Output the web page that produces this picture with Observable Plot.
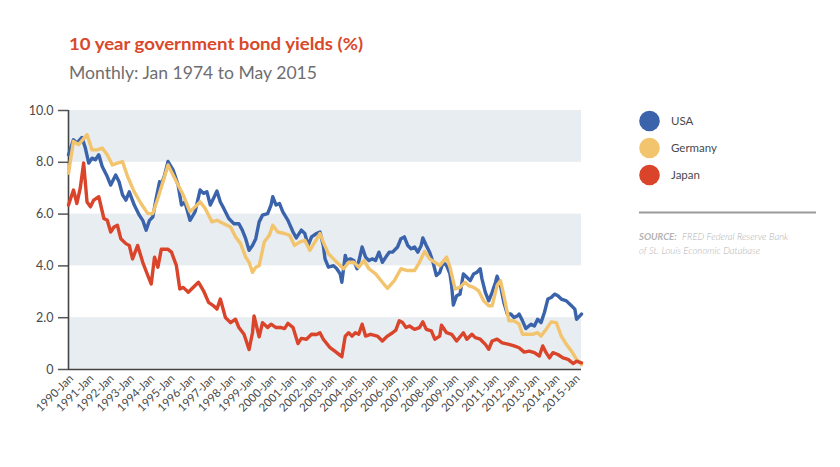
<!DOCTYPE html>
<html>
<head>
<meta charset="utf-8">
<script src="https://cdn.jsdelivr.net/npm/d3@7"></script>
<script src="https://cdn.jsdelivr.net/npm/@observablehq/plot@0.6"></script>
<style>
  html, body { margin: 0; padding: 0; background: #ffffff; }
  #wrap { position: relative; width: 840px; height: 467px; overflow: hidden; font-family: Lato, "Open Sans", sans-serif; }
  #chart { position: absolute; left: 0; top: 0; }
  #overlay { position: absolute; left: 0; top: 0; pointer-events: none; }
</style>
</head>
<body>
<div id="wrap">
  <div id="chart"></div>
  <svg id="overlay" width="840" height="467"></svg>
</div>
<script>
// ---------- data ----------
const titleText = "10 year government bond yields (%)";
const subtitleText = "Monthly: Jan 1974 to May 2015";
const countries = ["USA", "Germany", "Japan"];
const countryColors = ["#3a63ab", "#f2c46e", "#d9442a"];
const sourceLabel = "SOURCE:";
const sourceLines = ["FRED Federal Reserve Bank", "of St. Louis Economic Database"];

const xStart = "1990-01";
const xEnd = "2015-05";
const xTickYears = d3.range(1990, 2016);
const yTicks = [0, 2, 4, 6, 8, 10];
const bandLo = [0, 4, 8];
const bandHi = [2, 6, 10];

const usa = [
  ["1990-01",8.29],["1990-04",8.87],["1990-06",8.74],["1990-09",8.96],["1990-11",8.55],
  ["1991-01",7.97],["1991-03",8.16],["1991-05",8.10],["1991-07",8.29],["1991-09",7.84],["1991-12",7.45],
  ["1992-02",7.12],["1992-05",7.51],["1992-07",7.25],["1992-09",6.74],["1992-11",6.54],
  ["1993-01",6.86],["1993-04",6.35],["1993-07",5.96],["1993-09",5.76],["1993-11",5.38],
  ["1994-01",5.76],["1994-03",5.89],["1994-05",6.61],["1994-07",7.25],["1994-08",7.12],["1994-10",7.51],["1994-12",8.03],
  ["1995-03",7.71],["1995-06",7.12],["1995-08",6.35],["1995-10",6.47],
  ["1996-01",5.76],["1996-04",6.09],["1996-07",6.93],["1996-09",6.80],["1996-11",6.86],
  ["1997-01",6.35],["1997-03",6.61],["1997-05",6.89],["1997-07",6.47],["1997-09",6.22],["1997-12",5.83],
  ["1998-03",5.63],["1998-06",5.63],["1998-08",5.38],["1998-10",5.05],["1998-12",4.60],
  ["1999-02",4.79],["1999-04",5.05],["1999-06",5.70],["1999-08",5.96],["1999-11",6.02],
  ["2000-01",6.35],["2000-02",6.67],["2000-04",6.35],["2000-06",6.41],["2000-08",6.09],["2000-11",5.76],
  ["2001-02",5.31],["2001-04",5.08],["2001-07",5.38],["2001-09",5.25],["2001-11",4.79],
  ["2002-01",5.12],["2002-04",5.25],["2002-06",5.31],["2002-08",4.79],["2002-09",4.27],["2002-11",3.95],
  ["2003-02",4.01],["2003-04",3.89],["2003-06",3.69],["2003-07",3.37],["2003-09",4.40],["2003-10",4.21],["2003-12",4.27],
  ["2004-02",4.21],["2004-04",3.89],["2004-07",4.73],["2004-09",4.34],["2004-11",4.21],
  ["2005-01",4.27],["2005-03",4.21],["2005-05",4.53],["2005-07",4.14],["2005-09",4.34],["2005-11",4.53],
  ["2006-01",4.53],["2006-04",4.73],["2006-06",5.05],["2006-08",5.12],["2006-10",4.79],["2006-12",4.66],
  ["2007-02",4.73],["2007-04",4.53],["2007-06",4.79],["2007-07",5.08],["2007-09",4.79],["2007-11",4.53],
  ["2008-01",4.14],["2008-03",3.63],["2008-05",3.75],["2008-07",4.14],["2008-09",4.01],["2008-11",3.69],["2008-12",3.24],
  ["2009-01",2.49],["2009-03",2.85],["2009-05",2.91],["2009-07",3.69],["2009-09",3.56],["2009-11",3.43],
  ["2010-01",3.69],["2010-03",3.75],["2010-05",3.89],["2010-06",3.50],["2010-08",2.98],["2010-10",2.65],["2010-12",2.98],
  ["2011-02",3.37],["2011-03",3.60],["2011-05",3.24],["2011-07",2.59],["2011-09",2.14],["2011-11",2.14],
  ["2012-01",2.01],["2012-03",2.07],["2012-04",2.14],["2012-06",1.88],["2012-08",1.58],["2012-11",1.75],
  ["2013-01",1.68],["2013-03",1.94],["2013-05",1.81],["2013-07",2.20],["2013-09",2.72],["2013-11",2.78],
  ["2014-01",2.91],["2014-03",2.85],["2014-05",2.72],["2014-08",2.65],["2014-11",2.46],
  ["2015-01",2.33],["2015-02",1.94],["2015-04",2.07],["2015-05",2.14]
];

const germany = [
  ["1990-01",7.58],["1990-04",8.81],["1990-07",8.68],["1990-12",9.07],
  ["1991-03",8.48],["1991-06",8.48],["1991-09",8.55],["1991-12",8.29],
  ["1992-03",7.90],["1992-06",7.97],["1992-09",8.03],["1992-12",7.45],
  ["1993-04",6.86],["1993-08",6.41],["1993-12",6.02],
  ["1994-03",6.02],["1994-06",6.61],["1994-09",7.25],["1994-12",7.90],
  ["1995-03",7.51],["1995-06",7.12],["1995-09",6.74],
  ["1996-01",6.09],["1996-04",6.28],["1996-07",6.47],["1996-10",6.22],
  ["1997-02",5.70],["1997-05",5.76],["1997-09",5.63],
  ["1998-01",5.50],["1998-04",5.12],["1998-07",4.86],["1998-10",4.34],["1998-12",4.14],
  ["1999-02",3.75],["1999-04",3.95],["1999-06",4.01],["1999-09",4.92],["1999-12",5.18],
  ["2000-02",5.57],["2000-05",5.31],["2000-09",5.25],["2000-12",5.18],
  ["2001-03",4.79],["2001-06",4.92],["2001-09",4.99],["2001-12",4.60],
  ["2002-03",4.92],["2002-06",5.25],["2002-08",4.92],["2002-11",4.47],
  ["2003-02",4.27],["2003-04",4.14],["2003-08",3.89],["2003-11",4.14],
  ["2004-02",4.14],["2004-05",3.95],["2004-08",4.21],["2004-11",3.89],
  ["2005-03",3.69],["2005-07",3.37],["2005-10",3.13],
  ["2006-02",3.43],["2006-06",3.89],["2006-10",3.82],
  ["2007-02",3.82],["2007-05",4.14],["2007-08",4.56],["2007-11",4.27],
  ["2008-02",4.14],["2008-05",4.01],["2008-09",4.34],["2008-11",3.95],
  ["2009-02",3.11],["2009-05",3.17],["2009-08",3.37],["2009-10",3.24],
  ["2010-01",3.17],["2010-04",3.04],["2010-07",2.65],["2010-10",2.46],["2010-12",2.46],
  ["2011-03",3.24],["2011-05",3.43],["2011-07",2.85],["2011-10",1.88],
  ["2012-01",1.88],["2012-04",1.75],["2012-06",1.36],["2012-09",1.36],["2012-12",1.36],
  ["2013-03",1.42],["2013-05",1.29],["2013-08",1.55],["2013-11",1.84],
  ["2014-02",1.81],["2014-05",1.29],["2014-08",0.97],["2014-11",0.71],
  ["2015-02",0.39],["2015-05",0.19]
];

const japan = [
  ["1990-01",6.35],["1990-04",6.93],["1990-06",6.41],["1990-08",7.00],["1990-10",7.97],["1990-12",6.47],
  ["1991-02",6.28],["1991-04",6.54],["1991-07",6.67],["1991-10",5.83],["1991-12",5.76],
  ["1992-02",5.31],["1992-04",5.50],["1992-06",5.57],["1992-08",5.05],["1992-11",4.86],
  ["1993-01",4.79],["1993-03",4.27],["1993-06",4.79],["1993-09",4.14],["1993-12",3.63],
  ["1994-02",3.30],["1994-04",4.34],["1994-06",3.95],["1994-08",4.64],["1994-12",4.64],
  ["1995-02",4.53],["1995-05",4.01],["1995-07",3.11],["1995-09",3.17],["1995-12",2.98],
  ["1996-06",3.37],["1996-09",3.04],["1996-12",2.59],
  ["1997-03",2.46],["1997-05",2.33],["1997-07",2.72],["1997-10",2.01],
  ["1998-01",1.81],["1998-04",1.94],["1998-06",1.62],["1998-09",1.36],["1998-12",0.77],
  ["1999-02",1.42],["1999-03",2.07],["1999-06",1.26],["1999-08",1.81],["1999-11",1.62],
  ["2000-01",1.75],["2000-04",1.62],["2000-07",1.62],["2000-09",1.58],["2000-11",1.78],
  ["2001-02",1.62],["2001-05",1.00],["2001-07",1.20],["2001-10",1.17],
  ["2002-01",1.36],["2002-04",1.35],["2002-06",1.42],["2002-08",1.17],["2002-12",0.84],
  ["2003-04",0.65],["2003-07",0.49],["2003-09",1.29],["2003-11",1.42],
  ["2004-01",1.29],["2004-03",1.42],["2004-05",1.36],["2004-07",1.75],["2004-09",1.29],["2004-12",1.36],
  ["2005-04",1.29],["2005-07",1.10],["2005-10",1.29],
  ["2006-01",1.42],["2006-03",1.52],["2006-05",1.88],["2006-07",1.81],["2006-09",1.62],["2006-11",1.68],
  ["2007-02",1.55],["2007-05",1.62],["2007-07",1.84],["2007-09",1.55],["2007-12",1.49],
  ["2008-02",1.17],["2008-05",1.29],["2008-06",1.71],["2008-09",1.42],["2008-12",1.36],
  ["2009-03",1.10],["2009-07",1.42],["2009-09",1.17],["2009-12",1.36],
  ["2010-02",1.23],["2010-05",1.17],["2010-08",0.97],["2010-10",0.78],["2010-12",1.10],
  ["2011-03",1.17],["2011-06",1.03],["2011-10",0.97],
  ["2012-01",0.91],["2012-04",0.84],["2012-07",0.67],["2012-10",0.71],
  ["2013-01",0.65],["2013-04",0.52],["2013-06",0.91],["2013-08",0.65],["2013-10",0.45],["2013-12",0.65],
  ["2014-03",0.58],["2014-06",0.45],["2014-09",0.39],["2014-12",0.23],
  ["2015-02",0.32],["2015-05",0.26]
];

// ---------- build ----------
const parse = d3.utcParse("%Y-%m");
const seriesData = [usa, germany, japan];
const rows = [];
seriesData.forEach((s, i) => s.forEach(([d, v]) => rows.push({country: countries[i], date: parse(d), value: v})));
const x0 = parse(xStart), x1 = parse(xEnd);
const bands = bandLo.map((lo, i) => ({lo, hi: bandHi[i], x1: x0, x2: x1}));
const xTicks = xTickYears.map(y => new Date(Date.UTC(y, 0, 1)));

const plot = Plot.plot({
  width: 840,
  height: 467,
  marginLeft: 68,
  marginRight: 259,
  marginTop: 110,
  marginBottom: 98,
  style: {background: "transparent", fontFamily: "Lato, 'Open Sans', sans-serif", color: "#4a4a4a"},
  x: {type: "utc", domain: [x0, x1]},
  y: {domain: [0, 10]},
  color: {domain: countries, range: countryColors},
  marks: [
    Plot.rect(bands, {x1: "x1", x2: "x2", y1: "lo", y2: "hi", fill: "#e8edf1"}),
    Plot.axisY({ticks: yTicks, tickFormat: d => d === 0 ? "0" : d.toFixed(1), tickSize: 10, tickPadding: 5,
      fontSize: 12.5, stroke: "#555", strokeWidth: 1.5, label: null, fill: "#4a4a4a"}),
    Plot.axisX({ticks: xTicks, tickFormat: d3.utcFormat("%Y-%b"), tickRotate: -45, tickSize: 0, tickPadding: 7,
      fontSize: 11.5, label: null, fill: "#4a4a4a", dx: 3}),
    Plot.ruleX([x0], {stroke: "#444", strokeWidth: 1.6}),
    Plot.ruleY([0], {stroke: "#444", strokeWidth: 1.6}),
    Plot.line(rows, {x: "date", y: "value", z: "country", stroke: "country", strokeWidth: 3.4,
      strokeLinejoin: "round", strokeLinecap: "round"})
  ]
});
document.getElementById("chart").appendChild(plot);

// ---------- titles, legend, source ----------
const ov = d3.select("#overlay");
ov.append("text").attr("x", 69).attr("y", 50).attr("font-size", 17).attr("font-weight", 700)
  .attr("fill", "#d9482b").attr("font-family", "Lato, sans-serif")
  .attr("textLength", 294).attr("lengthAdjust", "spacingAndGlyphs").text(titleText);
ov.append("text").attr("x", 69).attr("y", 78.5).attr("font-size", 17).attr("font-weight", 400)
  .attr("fill", "#6e6e70").attr("font-family", "Lato, sans-serif")
  .attr("textLength", 248).attr("lengthAdjust", "spacingAndGlyphs").text(subtitleText);

const legendY = [121, 148, 175];
countries.forEach((c, i) => {
  ov.append("circle").attr("cx", 649.5).attr("cy", legendY[i]).attr("r", 10.3).attr("fill", countryColors[i]);
  ov.append("text").attr("x", 671).attr("y", legendY[i] + 4).attr("font-size", 11.5)
    .attr("fill", "#4a4a4a").attr("font-family", "Lato, sans-serif").text(c);
});
ov.append("line").attr("x1", 639).attr("x2", 816).attr("y1", 212.5).attr("y2", 212.5)
  .attr("stroke", "#9a9a9a").attr("stroke-width", 2);
const src = ov.append("text").attr("x", 639).attr("y", 239.5).attr("font-size", 9.5)
  .attr("font-style", "italic").attr("fill", "#b3b3b3").attr("font-family", "Lato, sans-serif");
src.append("tspan").attr("font-weight", 700).text(sourceLabel);
src.append("tspan").attr("x", 682).attr("font-weight", 300).text(sourceLines[0]);
ov.append("text").attr("x", 639).attr("y", 253.5).attr("font-size", 9.5).attr("font-style", "italic")
  .attr("font-weight", 300).attr("fill", "#b3b3b3").attr("font-family", "Lato, sans-serif").text(sourceLines[1]);
</script>
</body>
</html>
